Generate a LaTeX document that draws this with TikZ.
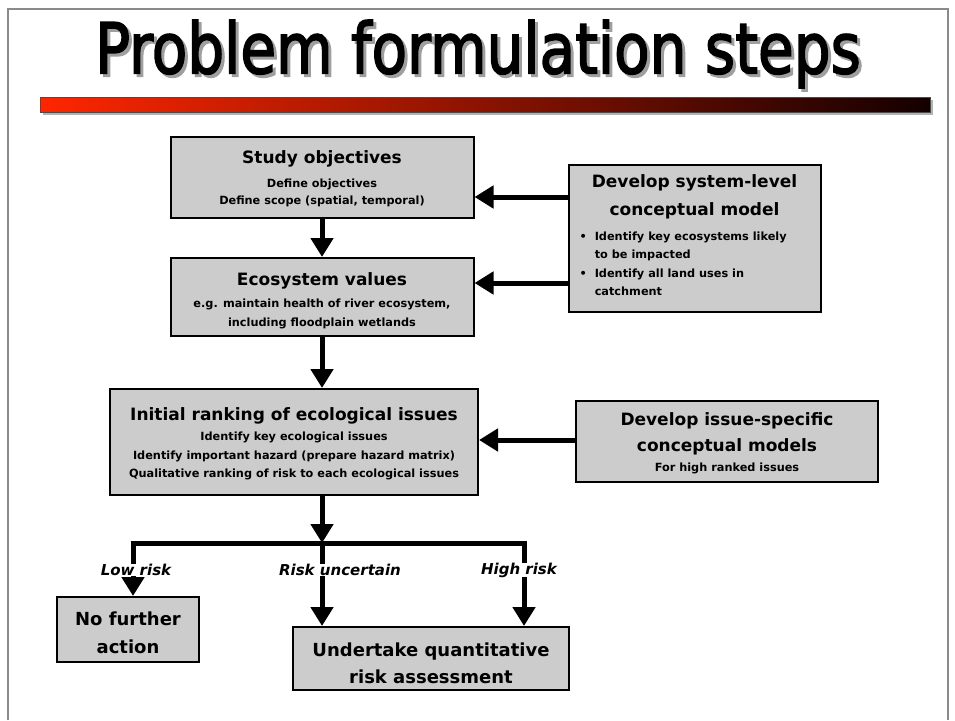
\documentclass[tikz,border=0pt]{standalone}
\usepackage{fontspec}
\setmainfont{DejaVu Sans}
\newfontfamily\titlefont[FakeBold=2.5]{DejaVu Sans}
\usetikzlibrary{arrows.meta}
\definecolor{boxgray}{HTML}{CCCCCC}
\definecolor{framegray}{HTML}{8A8A8A}
\definecolor{barred}{HTML}{FF2600}
\definecolor{bardark}{HTML}{140000}
\newcommand\headsz{\fontsize{17}{22}\selectfont\bfseries}
\newcommand\subsz{\fontsize{11.3}{17}\selectfont\bfseries}
\newcommand\titletext{\scalebox{0.83}[1]{\titlefont\fontsize{70}{74}\selectfont Problem formulation steps}}
\begin{document}
\begin{tikzpicture}[x=1pt,y=-1pt,
  box/.style={draw=black,line width=2pt,fill=boxgray,inner sep=0pt},
  boxtext/.style={align=center,inner sep=0pt},
  flow/.style={line width=5pt,-{Triangle[width=22pt,length=19pt]}},
  lblfont/.style={font=\fontsize{15}{18}\selectfont\bfseries\itshape,fill=white,inner sep=0pt}]
\useasboundingbox (0,0) rectangle (955,720);
\fill[white] (0,0) rectangle (955,720);
% slide frame
\draw[framegray,line width=1.5pt] (8,720) -- (8,9) -- (948,9) -- (948,720);

% title with drop shadow
\node[text=gray!75] (titleshadow) at (481,57) {\titletext};
\node (title) at (478,54) {\titletext};

% gradient rule under the title
\fill[gray!60] (43,100) rectangle (933,115);
\shade[left color=barred,right color=bardark] (40,97) rectangle (930,112);
\draw[black!70,line width=0.6pt] (40,97) rectangle (930,112);

% boxes
\node[box,minimum width=303pt,minimum height=81pt] (study) at (322,177.5) {};
\node[boxtext,font=\fontsize{11.3}{17}\selectfont\bfseries] (studytext) at ([yshift=-1pt]study.center)
  {{\headsz Study objectives}\\[7pt]
   Define objectives\\ Define scope (spatial, temporal)};
\node[box,minimum width=303pt,minimum height=78pt] (eco) at (322,297) {};
\node[boxtext,font=\fontsize{11.3}{19}\selectfont\bfseries] (ecotext) at ([yshift=-3.5pt]eco.center)
  {{\headsz Ecosystem values}\\[3pt]
   e.g. maintain health of river ecosystem,\\ including floodplain wetlands};
\node[box,minimum width=252pt,minimum height=147pt] (sys) at (694.5,238.5) {};
\node[boxtext,anchor=north,font=\fontsize{17}{28}\selectfont\bfseries] (systitle) at (694.5,174)
  {Develop system-level\\conceptual model};
\node[anchor=north west,font=\subsz] (sysitems) at (576,224)
  {\renewcommand\arraystretch{1.08}\begin{tabular}{@{}l@{\hspace{8pt}}l@{}}
   • & Identify key ecosystems likely\\
     & to be impacted\\
   • & Identify all land uses in\\
     & catchment
   \end{tabular}};
\node[box,minimum width=368pt,minimum height=106pt] (rank) at (294,442) {};
\node[boxtext,font=\fontsize{11.3}{18.5}\selectfont\bfseries] (ranktext) at ([yshift=-2pt]rank.center)
  {{\headsz Initial ranking of ecological issues}\\[2pt]
   Identify key ecological issues\\
   Identify important hazard (prepare hazard matrix)\\
   Qualitative ranking of risk to each ecological issues};
\node[box,minimum width=302pt,minimum height=81pt] (issue) at (727,441) {};
\node[boxtext,font=\fontsize{17}{26}\selectfont\bfseries] (issuetext) at ([yshift=-2pt]issue.center)
  {Develop issue-specific\\ conceptual models\\[-6pt]
   {\subsz For high ranked issues}};
\node[box,minimum width=142pt,minimum height=65pt] (nofurther) at (128,629.5) {};
\node[boxtext,font=\fontsize{18}{28}\selectfont\bfseries] (nofurthertext) at ([yshift=-3pt]nofurther.center)
  {No further\\ action};
\node[box,minimum width=276pt,minimum height=63pt] (quant) at (431,658.5) {};
\node[boxtext,font=\fontsize{18}{27}\selectfont\bfseries] (quanttext) at ([yshift=-5pt]quant.center)
  {Undertake quantitative\\ risk assessment};

% junction points of the branching connector
\coordinate (split) at (322,543);
\coordinate (splitL) at (133,543);
\coordinate (splitR) at (524,543);

% connectors
\draw[flow] (study) -- (eco);
\draw[flow] (eco.south) -- (eco.south |- rank.north);
\draw[flow] (sys.west |- 0,197) -- (study.east |- 0,197);
\draw[flow] (sys.west |- 0,283) -- (eco.east |- 0,283);
\draw[flow] (issue.west |- 0,440) -- (rank.east |- 0,440);
\draw[flow] (rank.south -| split) -- (split);
\draw[line width=5pt] ([xshift=-2.5pt]splitL) -- ([xshift=2.5pt]splitR);
\draw[flow] ([yshift=2.5pt]splitL) -- (splitL |- nofurther.north);
\draw[flow] ([yshift=2.5pt]split) -- (split |- quant.north);
\draw[flow] ([yshift=2.5pt]splitR) -- (splitR |- quant.north);

% branch labels
\node[lblfont] (lowlbl) at (136,570) {Low risk};
\node[lblfont] (unclbl) at (340,570) {Risk uncertain};
\node[lblfont] (highlbl) at (519,570) {High risk};
\end{tikzpicture}
\end{document}
